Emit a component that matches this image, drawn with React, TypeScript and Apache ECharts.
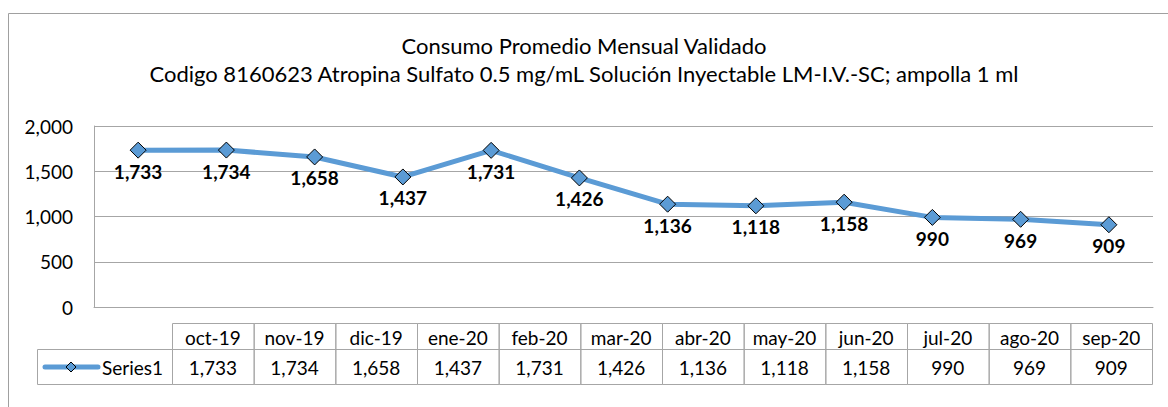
import React, { useEffect, useRef } from "react";
import * as echarts from "echarts";

const categories = ["oct-19", "nov-19", "dic-19", "ene-20", "feb-20", "mar-20", "abr-20", "may-20", "jun-20", "jul-20", "ago-20", "sep-20"];
const series1 = [1733, 1734, 1658, 1437, 1731, 1426, 1136, 1118, 1158, 990, 969, 909];
const seriesName = "Series1";
const titleLine1 = "Consumo Promedio Mensual Validado";
const titleLine2 = "Codigo 8160623 Atropina Sulfato 0.5 mg/mL Solución Inyectable LM-I.V.-SC; ampolla 1 ml";

const FONT = "Lato, 'Open Sans', sans-serif";
const GRID = "#a6a6a6";
const BLUE = "#5b9bd5";
const FS = 19;
const fmt = (v: number) => v.toLocaleString("en-US");

export default function App() {
  const ref = useRef<HTMLDivElement>(null);
  useEffect(() => {
    document.body.style.margin = "0";
    if (!ref.current) return;
    const chart = echarts.init(ref.current, null, { renderer: "svg" });

    const tL = 172, tR = 1152;
    const colW = (tR - tL) / categories.length;
    const hTop = 323, hBot = 349, dBot = 384, legL = 37;
    const graphics: any[] = [];
    graphics.push({ type: "rect", shape: { x: 8.5, y: 13.5, width: 1300, height: 600 }, style: { fill: "none", stroke: "#a0a0a0", lineWidth: 1 }, silent: true });
    graphics.push({ type: "text", x: 584, y: 45, style: { text: titleLine1, font: `22px ${FONT}`, fill: "#000", align: "center", verticalAlign: "middle" } });
    graphics.push({ type: "text", x: 584, y: 73, style: { text: titleLine2, font: `22px ${FONT}`, fill: "#000", align: "center", verticalAlign: "middle" } });
    graphics.push({ type: "rect", shape: { x: legL + 0.5, y: hBot + 0.5, width: tL - legL, height: dBot - hBot }, style: { fill: "none", stroke: GRID, lineWidth: 1 } });
    graphics.push({ type: "line", shape: { x1: 45, y1: 367, x2: 98, y2: 367 }, style: { stroke: BLUE, lineWidth: 5, lineCap: "round" } });
    graphics.push({ type: "polygon", shape: { points: [[71, 362], [76, 367], [71, 372], [66, 367]] }, style: { fill: BLUE, stroke: "#000", lineWidth: 1 } });
    graphics.push({ type: "text", x: 102, y: 367, style: { text: seriesName, font: `${FS}px ${FONT}`, fill: "#000", align: "left", verticalAlign: "middle" } });
    categories.forEach((c, i) => {
      const x = tL + i * colW;
      graphics.push({ type: "rect", shape: { x: x + 0.5, y: hTop + 0.5, width: colW, height: hBot - hTop }, style: { fill: "none", stroke: GRID, lineWidth: 1 } });
      graphics.push({ type: "rect", shape: { x: x + 0.5, y: hBot + 0.5, width: colW, height: dBot - hBot }, style: { fill: "none", stroke: GRID, lineWidth: 1 } });
      graphics.push({ type: "text", x: x + colW / 2, y: (hTop + hBot) / 2 + 1, style: { text: c, font: `${FS}px ${FONT}`, fill: "#000", align: "center", verticalAlign: "middle" } });
      graphics.push({ type: "text", x: x + colW / 2, y: (hBot + dBot) / 2 + 1, style: { text: fmt(series1[i]), font: `${FS}px ${FONT}`, fill: "#000", align: "center", verticalAlign: "middle" } });
    });

    chart.setOption({
      animation: false,
      grid: { left: 94, right: 15, top: 126, bottom: 100, containLabel: false },
      xAxis: {
        type: "category",
        data: categories,
        boundaryGap: true,
        axisLabel: { show: false },
        axisTick: { show: false },
        axisLine: { show: true, lineStyle: { color: GRID } },
      },
      yAxis: {
        type: "value",
        min: 0,
        max: 2000,
        interval: 500,
        axisLabel: { fontFamily: FONT, fontSize: FS, color: "#000", margin: 21, formatter: (v: number) => fmt(v) },
        axisLine: { show: true, lineStyle: { color: GRID } },
        axisTick: { show: false },
        splitLine: { lineStyle: { color: GRID, width: 1 } },
      },
      series: [
        {
          name: seriesName,
          type: "line",
          data: series1,
          symbol: "diamond",
          symbolSize: 16,
          lineStyle: { color: BLUE, width: 5 },
          itemStyle: { color: BLUE, borderColor: "#000", borderWidth: 1 },
          label: {
            show: true,
            position: "bottom",
            distance: 3,
            fontFamily: FONT,
            fontSize: FS,
            fontWeight: "bold",
            color: "#000",
            formatter: (p: any) => fmt(p.value),
          },
        },
      ],
      graphic: graphics,
    });
    return () => chart.dispose();
  }, []);
  return <div ref={ref} style={{ width: 1168, height: 407 }} />;
}
